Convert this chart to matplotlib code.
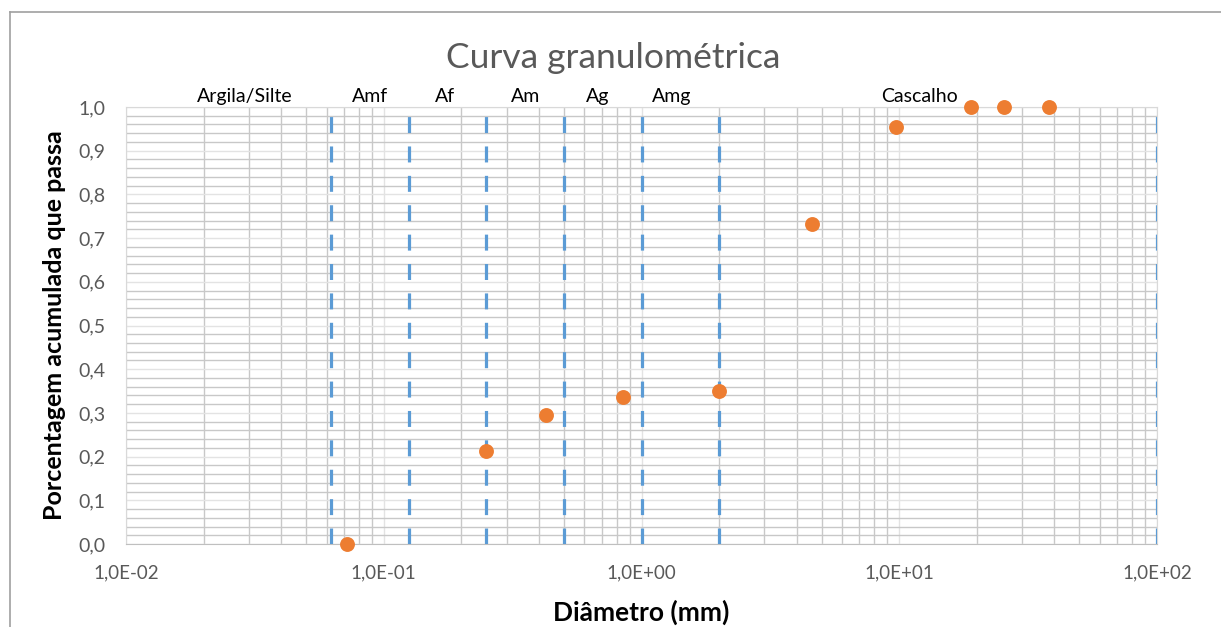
import numpy as np
import matplotlib.pyplot as plt
from matplotlib.ticker import FixedLocator, LogLocator, NullFormatter, FuncFormatter
from matplotlib.lines import Line2D

plt.rcParams['font.family'] = ['Lato', 'DejaVu Sans']

# Sample data (diameter in mm, cumulative fraction passing)
diametro = [0.072, 0.25, 0.425, 0.85, 2.0, 4.6, 9.7, 19.0, 25.4, 38.1]
passa = [0.0, 0.213, 0.296, 0.336, 0.351, 0.733, 0.955, 1.0, 1.0, 1.0]

# Class boundaries (mm)
limites = [0.0625, 0.125, 0.25, 0.5, 1.0, 2.0, 100.0]

# Class names and where they are written
classes = ['Argila/Silte', 'Amf', 'Af', 'Am', 'Ag', 'Amg', 'Cascalho']
classes_x = [0.029, 0.0886, 0.173, 0.355, 0.675, 1.31, 12.0]

fig = plt.figure(figsize=(12.21, 6.27), dpi=100)
ax = fig.add_axes([126 / 1221, 1 - 544 / 627, 1031 / 1221, 437 / 627])

ax.set_xscale('log')
ax.set_xlim(0.01, 100)
ax.set_ylim(0, 1)

# Grid
ax.xaxis.set_minor_locator(LogLocator(base=10, subs=np.arange(2, 10)))
ax.xaxis.set_minor_formatter(NullFormatter())
ax.yaxis.set_major_locator(FixedLocator(np.round(np.arange(0, 1.01, 0.1), 2)))
ax.yaxis.set_minor_locator(FixedLocator(np.round(np.arange(0, 1.001, 0.02), 2)))
ax.grid(which='minor', color='#c8c8c8', linewidth=1.0)
ax.grid(which='major', color='#e3e3e3', linewidth=1.0)
ax.set_axisbelow(True)

ax.tick_params(which='both', length=0)
ax.tick_params(axis='x', pad=15, labelsize=13.5, labelcolor='#595959')
ax.tick_params(axis='y', pad=15, labelsize=14, labelcolor='#595959')
ax.xaxis.set_major_formatter(FuncFormatter(lambda v, p: ('%.1E' % v).replace('.', ',')))
ax.yaxis.set_major_formatter(FuncFormatter(lambda v, p: ('%.1f' % v).replace('.', ',')))

for s in ['top', 'right', 'left']:
    ax.spines[s].set_color('#d9d9d9')
ax.spines['bottom'].set_color('#bfbfbf')

# Class boundaries
for x in limites:
    ax.axvline(x, color='#5b9bd5', linewidth=2.3, dashes=(5, 4.2), zorder=3)

# Data points
ax.scatter(diametro, passa, s=115, color='#ed7d31', zorder=5, clip_on=False, linewidths=0)

for nome, x in zip(classes, classes_x):
    ax.text(x, 1.004, nome, ha='center', va='bottom', fontsize=14, color='black')

fig.text(0.5025, 1 - 58 / 627, 'Curva granulométrica', ha='center', va='center',
         fontsize=25.5, color='#595959')
ax.set_xlabel('Diâmetro (mm)', fontsize=19, fontweight='bold', labelpad=13)
ax.set_ylabel('Porcentagem acumulada que passa', fontsize=18, fontweight='bold', labelpad=9)

# Chart border
fig.add_artist(Line2D([10 / 1221, 10 / 1221], [0, 1 - 12 / 627], transform=fig.transFigure,
                      color='#a0a0a0', linewidth=1.2))
fig.add_artist(Line2D([10 / 1221, 1], [1 - 12 / 627, 1 - 12 / 627], transform=fig.transFigure,
                      color='#a0a0a0', linewidth=1.2))

plt.savefig('out.png', dpi=100)
